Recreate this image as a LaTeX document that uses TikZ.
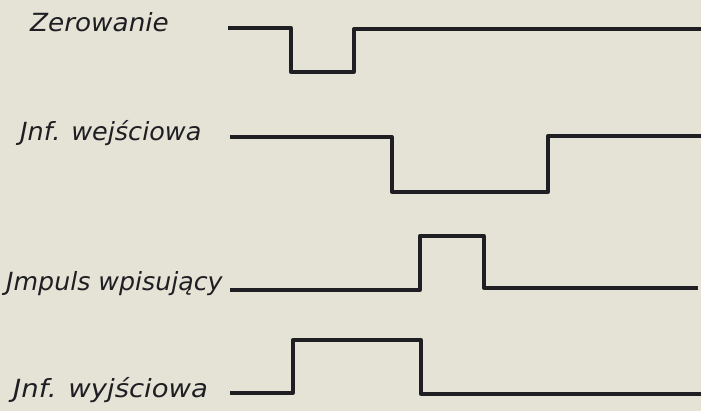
\documentclass[tikz,border=0pt]{standalone}
\usepackage{fontspec}
\setmainfont{DejaVu Sans}
\definecolor{paper}{RGB}{229,227,214}
\definecolor{ink}{RGB}{30,30,35}
\begin{document}
\begin{tikzpicture}[x=1pt,y=-1pt,
  wave/.style={draw=ink, line width=3.3pt, line join=round},
  lbl/.style={anchor=base west, inner sep=0pt, text=ink, font=\fontsize{25}{25}\selectfont\itshape}]
\fill[paper] (0,0) rectangle (701,411);
\useasboundingbox (0,0) rectangle (701,411);
% labels
\node[lbl, xscale=1.05] (zl) at (30,32) {Zerowanie};
\node[lbl, xscale=1.02] (wel) at (20,141) {Jnf. wejściowa};
\node[lbl, xscale=1.01] (il) at (6,291) {Jmpuls wpisujący};
\node[lbl, xscale=1.10] (wyl) at (13,397) {Jnf. wyjściowa};
% Zerowanie
\coordinate (z0) at (228,28);
\coordinate (z1) at (291,28);
\coordinate (z2) at (291,72);
\coordinate (z3) at (354,72);
\coordinate (z4) at (354,29);
\coordinate (z5) at (701,29);
\draw[wave] (z0) -- (z1) -- (z2) -- (z3) -- (z4) -- (z5);
% Inf. wejsciowa
\coordinate (a0) at (230,137);
\coordinate (a1) at (392,137);
\coordinate (a2) at (392,192);
\coordinate (a3) at (548,192);
\coordinate (a4) at (548,136);
\coordinate (a5) at (701,136);
\draw[wave] (a0) -- (a1) -- (a2) -- (a3) -- (a4) -- (a5);
% Impuls wpisujacy
\coordinate (b0) at (230,290);
\coordinate (b1) at (420,290);
\coordinate (b2) at (420,236);
\coordinate (b3) at (484,236);
\coordinate (b4) at (484,288);
\coordinate (b5) at (698,288);
\draw[wave] (b0) -- (b1) -- (b2) -- (b3) -- (b4) -- (b5);
% Inf. wyjsciowa
\coordinate (c0) at (230,393);
\coordinate (c1) at (293,393);
\coordinate (c2) at (293,340);
\coordinate (c3) at (421,340);
\coordinate (c4) at (421,394);
\coordinate (c5) at (701,394);
\draw[wave] (c0) -- (c1) -- (c2) -- (c3) -- (c4) -- (c5);
\end{tikzpicture}
\end{document}
